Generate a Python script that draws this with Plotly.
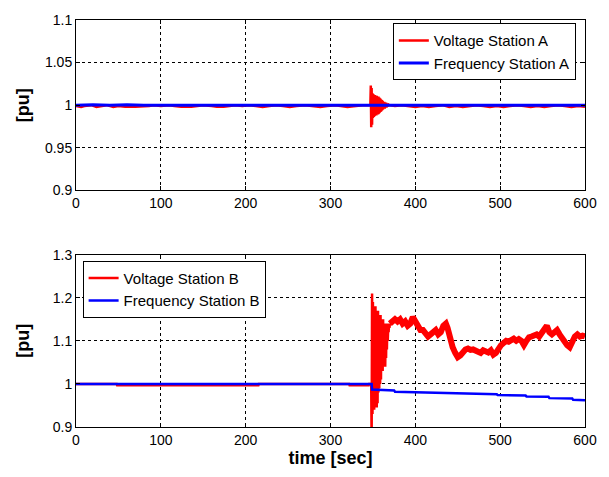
import plotly.graph_objects as go

# ---- Station A (top panel) ----
volt_a_t = [0, 6, 10, 18, 24, 30, 36, 44, 50, 58, 64, 70, 86, 92, 100, 110, 116, 124, 136, 144,
            150, 160, 166, 174, 180, 188, 196, 204, 212, 220, 228, 236, 244, 252, 260, 270, 278,
            288, 296, 306, 312, 320, 330, 338, 346,
            347.0, 347.5, 348.0, 348.5, 349.0, 349.5, 350.0, 350.5, 351.0, 351.5, 352.0, 352.5,
            353.0, 353.5, 354.0, 354.5, 355.0, 355.5, 356.0, 356.5, 357.0, 357.5, 358.0, 358.5,
            359.0, 359.5, 360.0, 360.5, 361.0, 361.5, 362.0, 362.5, 363.0, 363.5, 364.0, 364.5,
            365.0, 365.5, 366.0, 366.5, 367.0, 367.5, 368.0, 368.5, 369.0,
            376, 384, 392, 400, 408, 416, 424, 432, 440, 448, 456, 464, 472, 480, 488, 496, 504,
            512, 520, 528, 536, 544, 552, 560, 568, 576, 584, 592, 600]
volt_a = [0.999, 0.998, 0.999, 1.000, 0.998, 0.999, 1.000, 0.998, 0.999, 0.998, 0.998, 0.998,
          0.999, 1.000, 0.999, 1.000, 0.999, 0.998, 0.998, 0.999,
          1.000, 0.999, 0.998, 0.998, 0.999, 1.000, 0.999, 1.000, 0.999, 0.998, 0.999, 1.000,
          0.999, 0.998, 0.999, 1.000, 0.999, 0.998, 0.999, 1.000, 0.999, 0.998, 0.999, 1.000, 1.000,
          1.000, 1.023, 0.974, 1.020, 0.977, 1.014, 0.985, 1.013, 0.986, 1.012, 0.987, 1.012,
          0.988, 1.011, 0.988, 1.011, 0.989, 1.010, 0.989, 1.010, 0.990, 1.009, 0.991, 1.008,
          0.992, 1.007, 0.993, 1.006, 0.994, 1.005, 0.995, 1.004, 0.996, 1.004, 0.996, 1.003,
          0.997, 1.003, 0.997, 1.002, 0.998, 1.002, 0.999, 1.001, 1.000,
          0.999, 1.000, 0.999, 0.998, 0.999, 0.998, 0.999, 1.000, 0.998, 0.999, 0.998, 0.999,
          1.000, 0.999, 0.998, 0.999, 0.998, 0.999, 1.000, 0.999, 0.998, 0.999, 0.998, 0.999,
          1.000, 0.999, 0.998, 0.999, 0.998]

freq_a_t = [0, 20, 40, 60, 80, 100, 120, 140, 160, 180, 200, 220, 240, 260, 280, 300, 320,
            340, 360, 380, 400, 420, 440, 460, 480, 500, 520, 540, 560, 580, 600]
freq_a = [1.000, 1.0005, 1.000, 1.0005, 1.000, 1.000, 1.0005, 1.000, 1.0005, 1.000, 1.0005,
          1.000, 1.0005, 1.000, 1.000, 1.0005, 1.000, 1.000, 1.0005, 1.000, 1.0005, 1.000,
          1.0005, 1.000, 1.000, 1.0005, 1.000, 1.0005, 1.000, 1.0005, 1.000]

# ---- Station B (bottom panel) ----
volt_b_t = [0, 48, 48.5, 215, 215.5, 322, 322.5, 345, 345.5,
            348.0, 348.5, 349.0, 349.5, 350.0, 350.5, 351.0, 351.5, 352.0, 352.5, 353.0, 353.5,
            354.0, 354.5, 355.0, 355.5, 356.0, 356.5, 357.0, 357.5, 358.0, 358.5, 359.0, 359.5,
            360.0, 360.5, 361.0, 361.5, 362.0, 362.5, 363.0, 363.5, 364.0, 364.5, 365.0, 365.5,
            366.0, 366.5, 367.0, 367.5, 368.0, 368.5, 369.0, 369.5,
            370, 373, 376, 379, 382, 385, 388, 391, 394, 397, 400, 403, 406, 409, 412, 415, 418,
            421, 424, 427, 430, 433, 436, 438, 441, 444, 447, 450, 453, 456, 459, 462, 465, 468,
            471, 474, 477, 480, 483, 486, 489, 492, 495, 498, 501, 504, 507, 510, 513, 516, 519,
            522, 525, 528, 531, 534, 537, 540, 543, 546, 549, 552, 555, 558, 561, 564, 567, 570,
            573, 576, 579, 582, 585, 588, 591, 594, 597, 600]
volt_b = [1.000, 1.000, 0.997, 0.997, 1.000, 1.000, 0.997, 0.997, 1.000,
          1.000, 0.860, 1.210, 0.930, 1.190, 0.950, 1.180, 0.940, 1.170, 0.960, 1.180, 0.945,
          1.170, 0.945, 1.160, 0.955, 1.170, 0.980, 1.160, 0.990, 1.150, 1.000, 1.160, 1.010,
          1.150, 1.030, 1.140, 1.030, 1.150, 1.050, 1.140, 1.060, 1.140, 1.040, 1.130, 1.060,
          1.140, 1.080, 1.140, 1.100, 1.130, 1.120, 1.140, 1.130,
          1.140, 1.145, 1.150, 1.145, 1.150, 1.140, 1.145, 1.135, 1.140, 1.155, 1.145, 1.135,
          1.125, 1.125, 1.115, 1.110, 1.115, 1.120, 1.125, 1.115, 1.120, 1.135, 1.140, 1.130,
          1.100, 1.085, 1.072, 1.062, 1.066, 1.075, 1.080, 1.082, 1.079, 1.080, 1.078, 1.075,
          1.072, 1.078, 1.076, 1.073, 1.078, 1.068, 1.072, 1.085, 1.090, 1.095, 1.100, 1.098,
          1.100, 1.105, 1.100, 1.104, 1.100, 1.090, 1.100, 1.108, 1.110, 1.112, 1.115, 1.110,
          1.120, 1.130, 1.135, 1.120, 1.115, 1.120, 1.125, 1.115, 1.105, 1.100, 1.090, 1.085,
          1.100, 1.110, 1.115, 1.110, 1.112, 1.110]

freq_b_t = [0, 348.5, 349.0, 360, 375, 376, 395, 396, 420, 446, 447, 470, 496, 497, 530, 531,
            557, 558, 585, 586, 600]
freq_b = [1.000, 1.000, 0.987, 0.986, 0.985, 0.982, 0.981, 0.980, 0.979, 0.979, 0.978, 0.977,
          0.976, 0.974, 0.973, 0.971, 0.970, 0.967, 0.966, 0.963, 0.962]

x_ticks = [0, 100, 200, 300, 400, 500, 600]
y_ticks_a = [0.9, 0.95, 1.0, 1.05, 1.1]
y_tick_text_a = ["0.9", "0.95", "1", "1.05", "1.1"]
y_ticks_b = [0.9, 1.0, 1.1, 1.2, 1.3]
y_tick_text_b = ["0.9", "1", "1.1", "1.2", "1.3"]

RED = "#ff0000"
BLUE = "#0000ff"
FONT = "Liberation Sans, Arial, sans-serif"

fig = go.Figure()

# top panel
fig.add_trace(go.Scatter(x=volt_a_t, y=volt_a, mode="lines", name="Voltage Station A",
                         line=dict(color=RED, width=2.5), xaxis="x", yaxis="y", legend="legend"))
fig.add_trace(go.Scatter(x=freq_a_t, y=freq_a, mode="lines", name="Frequency Station A",
                         line=dict(color=BLUE, width=3), xaxis="x", yaxis="y", legend="legend"))

# bottom panel: thin line for the transient, wider stroke for the dense oscillation band
split = volt_b_t.index(370)
fig.add_trace(go.Scatter(x=volt_b_t[:split + 1], y=volt_b[:split + 1], mode="lines",
                         name="Voltage Station B", line=dict(color=RED, width=2.5),
                         xaxis="x2", yaxis="y2", legend="legend2", legendgroup="vb"))
fig.add_trace(go.Scatter(x=volt_b_t[split:], y=volt_b[split:], mode="lines",
                         name="Voltage Station B", line=dict(color=RED, width=6),
                         xaxis="x2", yaxis="y2", legend="legend2", legendgroup="vb",
                         showlegend=False))
fig.add_trace(go.Scatter(x=freq_b_t, y=freq_b, mode="lines", name="Frequency Station B",
                         line=dict(color=BLUE, width=2.5), xaxis="x2", yaxis="y2",
                         legend="legend2"))

axis_common = dict(showline=True, linecolor="black", linewidth=1, mirror="allticks",
                   ticks="inside", ticklen=4, tickcolor="black",
                   showgrid=True, gridcolor="black", gridwidth=1, griddash="3px,3px",
                   zeroline=False, tickfont=dict(family=FONT, size=14, color="black"))

legend_common = dict(bgcolor="white", bordercolor="black", borderwidth=1,
                     font=dict(family=FONT, size=15, color="black"),
                     itemwidth=30, tracegroupgap=0)

fig.update_layout(
    width=609, height=477,
    margin=dict(l=76, r=13, t=16, b=50),
    paper_bgcolor="white", plot_bgcolor="white",
    font=dict(family=FONT, size=14, color="black"),
    xaxis=dict(domain=[0, 1], range=[0, 600], tickvals=x_ticks, anchor="y", **axis_common),
    yaxis=dict(domain=[0.5815, 1], range=[0.9, 1.1], tickvals=y_ticks_a,
               ticktext=y_tick_text_a, anchor="x",
               title=dict(text="<b>[pu]</b>", font=dict(size=18), standoff=10),
               **axis_common),
    xaxis2=dict(domain=[0, 1], range=[0, 600], tickvals=x_ticks, anchor="y2",
                title=dict(text="<b>time [sec]</b>", font=dict(size=18), standoff=2),
                **axis_common),
    yaxis2=dict(domain=[0, 0.4234], range=[0.9, 1.3], tickvals=y_ticks_b,
                ticktext=y_tick_text_b, anchor="x2",
                title=dict(text="<b>[pu]</b>", font=dict(size=18), standoff=18),
                **axis_common),
    legend=dict(x=0.982, y=0.992, xanchor="right", yanchor="top", **legend_common),
    legend2=dict(x=0.013, y=0.4234 - 0.015, xanchor="left", yanchor="top", **legend_common),
    showlegend=True,
)

fig.write_html("out.html")
